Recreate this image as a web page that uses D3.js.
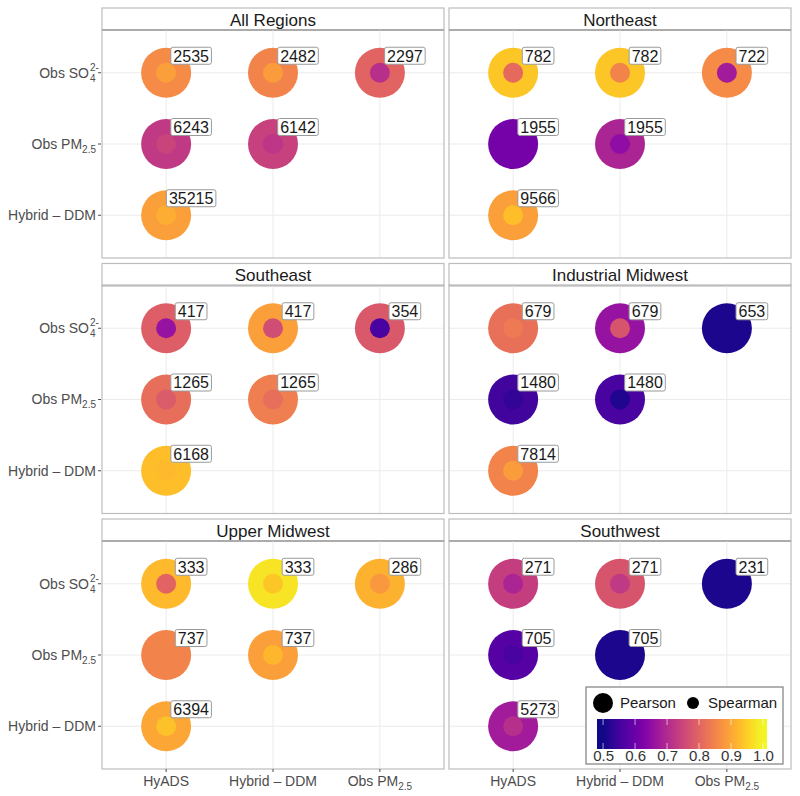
<!DOCTYPE html>
<html>
<head>
<meta charset="utf-8">
<script src="https://cdn.jsdelivr.net/npm/d3@7"></script>
<style>
  body { margin: 0; background: #fff; }
  text { font-family: "Liberation Sans", Arial, sans-serif; }
</style>
</head>
<body>
<div id="chart"></div>
<script>
// data
var regions = ["All Regions", "Northeast", "Southeast", "Industrial Midwest", "Upper Midwest", "Southwest"];
var xKeys = ["HyADS", "Hybrid", "ObsPM"];
var yKeys = ["SO4", "PM", "Hybrid"];
// the six comparisons drawn in every panel
var cellX = ["HyADS", "Hybrid", "ObsPM", "HyADS", "Hybrid", "HyADS"];
var cellY = ["SO4", "SO4", "SO4", "PM", "PM", "Hybrid"];

var counts = [
  [2535, 2482, 2297, 6243, 6142, 35215],
  [782, 782, 722, 1955, 1955, 9566],
  [417, 417, 354, 1265, 1265, 6168],
  [679, 679, 653, 1480, 1480, 7814],
  [333, 333, 286, 737, 737, 6394],
  [271, 271, 231, 705, 705, 5273]
];
var pearson = [
  [0.86, 0.85, 0.80, 0.725, 0.74, 0.89],
  [0.94, 0.94, 0.86, 0.615, 0.69, 0.89],
  [0.79, 0.89, 0.78, 0.815, 0.84, 0.93],
  [0.82, 0.66, 0.51, 0.55, 0.56, 0.85],
  [0.925, 0.975, 0.915, 0.85, 0.89, 0.90],
  [0.735, 0.775, 0.51, 0.575, 0.51, 0.675]
];
var spearman = [
  [0.89, 0.885, 0.71, 0.745, 0.72, 0.91],
  [0.81, 0.85, 0.675, 0.615, 0.65, 0.93],
  [0.66, 0.76, 0.56, 0.785, 0.815, 0.925],
  [0.835, 0.775, 0.51, 0.535, 0.515, 0.885],
  [0.80, 0.94, 0.88, 0.85, 0.92, 0.935],
  [0.69, 0.725, 0.51, 0.56, 0.51, 0.71]
];
var legendTicks = [0.5, 0.6, 0.7, 0.8, 0.9, 1.0];

var svgWidth = 800, svgHeight = 796;
var panelLeft = 102, colW = 342, colGap = 5;
var panelTop = 8, stripH = 22, plotH = 228, rowGap = 5.5;

var svg = d3.select("#chart").append("svg")
  .attr("width", svgWidth)
  .attr("height", svgHeight);

var color = d3.scaleSequential(d3.interpolatePlasma).domain([0.5, 1]).clamp(true);

var xScale = d3.scalePoint().domain(xKeys).range([0, colW]).padding(0.6);
var yScale = d3.scalePoint().domain(yKeys).range([0, plotH]).padding(0.6);

// label writers (sub/superscripts)
function yLabel(g, key) {
  var t = g.append("text").attr("fill", "#4d4d4d").style("font-size", "14px").attr("dy", "0.35em");
  if (key === "SO4") {
    t.attr("x", -12).attr("text-anchor", "end").text("Obs SO");
    g.append("text").attr("x", -11).attr("y", 9).attr("fill", "#4d4d4d").style("font-size", "10px").text("4");
    g.append("text").attr("x", -11).attr("y", -2).attr("fill", "#4d4d4d").style("font-size", "10px").text("2-");
  } else if (key === "PM") {
    t.attr("x", -5).attr("text-anchor", "end");
    t.append("tspan").text("Obs PM");
    t.append("tspan").attr("dy", 4).style("font-size", "10px").text("2.5");
  } else {
    t.attr("x", -5).attr("text-anchor", "end").text("Hybrid \u2013 DDM");
  }
}
function xLabel(g, key) {
  var t = g.append("text").attr("fill", "#4d4d4d").style("font-size", "14px")
    .attr("text-anchor", "middle").attr("y", 17);
  if (key === "ObsPM") {
    t.append("tspan").text("Obs PM");
    t.append("tspan").attr("dy", 4).style("font-size", "10px").text("2.5");
  } else if (key === "Hybrid") {
    t.text("Hybrid \u2013 DDM");
  } else {
    t.text("HyADS");
  }
}

regions.forEach(function(region, r) {
  var col = r % 2, row = Math.floor(r / 2);
  var px = panelLeft + col * (colW + colGap);
  var py = panelTop + row * (stripH + plotH + rowGap);

  var g = svg.append("g").attr("transform", `translate(${px}, ${py})`);

  // strip
  g.append("rect")
    .attr("x", 0).attr("y", 0).attr("width", colW).attr("height", stripH)
    .attr("fill", "#fff").attr("stroke", "#bdbdbd").attr("stroke-width", 1.2);
  g.append("line")
    .attr("x1", 0).attr("x2", colW).attr("y1", stripH).attr("y2", stripH)
    .attr("stroke", "#7a7a7a").attr("stroke-width", 1.3);
  g.append("text")
    .attr("x", colW / 2).attr("y", stripH / 2 + 0.5).attr("dy", "0.36em")
    .attr("text-anchor", "middle").attr("fill", "#1a1a1a")
    .style("font-size", "17px")
    .text(region);

  var plot = g.append("g").attr("transform", `translate(0, ${stripH})`);

  // grid
  plot.selectAll(".gx").data(xKeys).enter().append("line")
    .attr("x1", d => xScale(d)).attr("x2", d => xScale(d))
    .attr("y1", 0).attr("y2", plotH)
    .attr("stroke", "#ebebeb").attr("stroke-width", 1);
  plot.selectAll(".gy").data(yKeys).enter().append("line")
    .attr("y1", d => yScale(d)).attr("y2", d => yScale(d))
    .attr("x1", 0).attr("x2", colW)
    .attr("stroke", "#ebebeb").attr("stroke-width", 1);

  var cells = cellX.map(function(xk, i) {
    return { x: xk, y: cellY[i], n: counts[r][i], p: pearson[r][i], s: spearman[r][i] };
  });

  plot.selectAll(".outer").data(cells).enter().append("circle")
    .attr("cx", d => xScale(d.x)).attr("cy", d => yScale(d.y))
    .attr("r", 25).attr("fill", d => color(d.p));
  plot.selectAll(".inner").data(cells).enter().append("circle")
    .attr("cx", d => xScale(d.x)).attr("cy", d => yScale(d.y))
    .attr("r", 10).attr("fill", d => color(d.s));

  // count labels
  cells.forEach(function(d) {
    var lx = xScale(d.x) + 25, ly = yScale(d.y) - 17;
    var lg = plot.append("g");
    var rect = lg.append("rect").attr("fill", "#fff").attr("stroke", "#9a9a9a")
      .attr("stroke-width", 1).attr("rx", 2);
    var t = lg.append("text").attr("x", lx).attr("y", ly).attr("dy", "0.36em")
      .attr("text-anchor", "middle").attr("fill", "#1a1a1a")
      .style("font-size", "16px").text(d.n);
    var w = t.node().getComputedTextLength();
    rect.attr("x", lx - w / 2 - 2.5).attr("y", ly - 8.5).attr("width", w + 5).attr("height", 17);
  });

  // panel border
  plot.append("rect")
    .attr("x", 0).attr("y", 0).attr("width", colW).attr("height", plotH)
    .attr("fill", "none").attr("stroke", "#bdbdbd").attr("stroke-width", 1.2);

  // y axis on left column
  if (col === 0) {
    yKeys.forEach(function(k) {
      var ag = plot.append("g").attr("transform", `translate(-1, ${yScale(k)})`);
      ag.append("line").attr("x1", 0).attr("x2", -3).attr("stroke", "#4d4d4d");
      yLabel(ag, k);
    });
  }
  // x axis on bottom row
  if (row === 2) {
    xKeys.forEach(function(k) {
      var ag = plot.append("g").attr("transform", `translate(${xScale(k)}, ${plotH})`);
      ag.append("line").attr("y1", 0).attr("y2", 3).attr("stroke", "#4d4d4d");
      xLabel(ag, k);
    });
  }
});

// legend
var lg = svg.append("g");
lg.append("rect").attr("x", 586).attr("y", 687).attr("width", 197).attr("height", 77)
  .attr("fill", "#fff").attr("stroke", "#888").attr("stroke-width", 1.3);
lg.append("circle").attr("cx", 603).attr("cy", 703).attr("r", 10).attr("fill", "#000");
lg.append("text").attr("x", 620).attr("y", 703).attr("dy", "0.36em")
  .style("font-size", "15px").attr("fill", "#1a1a1a").text("Pearson");
lg.append("circle").attr("cx", 693).attr("cy", 703).attr("r", 6).attr("fill", "#000");
lg.append("text").attr("x", 708).attr("y", 703).attr("dy", "0.36em")
  .style("font-size", "15px").attr("fill", "#1a1a1a").text("Spearman");

var barScale = d3.scaleLinear().domain([0.481, 1.0125]).range([597, 767]);
var defs = svg.append("defs");
var grad = defs.append("linearGradient").attr("id", "plasmaBar");
d3.range(0, 1.0001, 0.05).forEach(function(f) {
  var v = barScale.invert(597 + f * 170);
  grad.append("stop").attr("offset", (f * 100) + "%").attr("stop-color", color(v));
});
lg.append("rect").attr("x", 597).attr("y", 719).attr("width", 170).attr("height", 30)
  .attr("fill", "url(#plasmaBar)");
lg.selectAll(".btk").data(legendTicks).enter().append("line")
  .attr("x1", d => barScale(d)).attr("x2", d => barScale(d))
  .attr("y1", 719).attr("y2", 725).attr("stroke", "#fff").attr("stroke-opacity", 0.6);
lg.selectAll(".btk2").data(legendTicks).enter().append("line")
  .attr("x1", d => barScale(d)).attr("x2", d => barScale(d))
  .attr("y1", 743).attr("y2", 749).attr("stroke", "#fff").attr("stroke-opacity", 0.6);

var legendAxis = d3.axisBottom(barScale).tickValues(legendTicks)
  .tickFormat(d3.format(".1f")).tickSize(0).tickPadding(0);
var ax = lg.append("g").attr("transform", "translate(0, 750)").call(legendAxis);
ax.select(".domain").remove();
ax.selectAll("text").style("font-size", "15px").attr("fill", "#333")
  .style("font-family", "'Liberation Sans', Arial, sans-serif");
</script>
</body>
</html>
